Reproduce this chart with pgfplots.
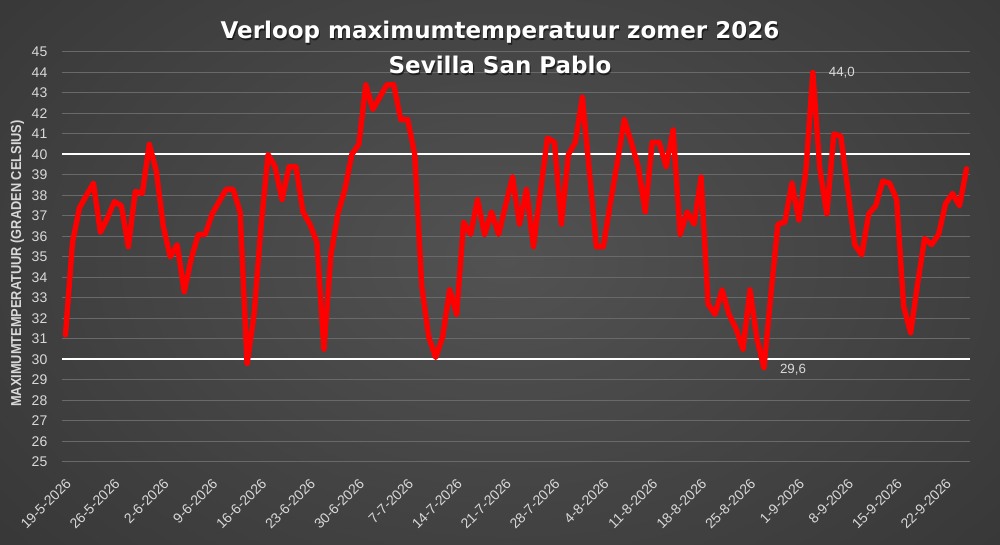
\documentclass[border=0pt]{standalone}
\usepackage{pgfplots}
\pgfplotsset{compat=1.18}
\usepackage{pgfplotstable}
\usepackage{fontspec}
\setmainfont{Liberation Sans}
\newfontfamily\titlefont{DejaVu Sans}
\definecolor{bgc}{RGB}{82,82,82}
\definecolor{bge}{RGB}{22,22,22}
\definecolor{gridc}{RGB}{105,105,105}
\definecolor{lbl}{RGB}{217,217,217}
\pgfdeclareradialshading{bgshade}{\pgfpoint{0bp}{0bp}}{color(0bp)=(bgc); color(50bp)=(bge)}

\pgfplotstableread{
d t
0 31.2
1 35.7
2 37.4
3 38.0
4 38.6
5 36.2
6 36.9
7 37.7
8 37.5
9 35.5
10 38.2
11 38.1
12 40.5
13 39.2
14 36.5
15 35.0
16 35.6
17 33.3
18 34.9
19 36.1
20 36.1
21 37.1
22 37.7
23 38.3
24 38.3
25 37.2
26 29.8
27 32.2
28 36.5
29 40.0
30 39.4
31 37.8
32 39.4
33 39.4
34 37.2
35 36.6
36 35.7
37 30.5
38 35.1
39 37.1
40 38.3
41 40.0
42 40.5
43 43.4
44 42.2
45 42.8
46 43.4
47 43.4
48 41.7
49 41.7
50 40.0
51 33.6
52 31.1
53 30.1
54 31.1
55 33.4
56 32.2
57 36.7
58 36.1
59 37.8
60 36.1
61 37.2
62 36.1
63 37.5
64 38.9
65 36.6
66 38.3
67 35.5
68 38.2
69 40.8
70 40.6
71 36.6
72 40.0
73 40.6
74 42.8
75 39.2
76 35.5
77 35.5
78 37.6
79 39.6
80 41.7
81 40.6
82 39.4
83 37.2
84 40.6
85 40.6
86 39.4
87 41.2
88 36.1
89 37.2
90 36.6
91 38.9
92 32.7
93 32.2
94 33.4
95 32.2
96 31.5
97 30.5
98 33.4
99 31.0
100 29.6
101 33.2
102 36.6
103 36.7
104 38.6
105 36.8
106 39.2
107 44.0
108 39.3
109 37.1
110 41.0
111 40.9
112 38.3
113 35.6
114 35.1
115 37.1
116 37.5
117 38.7
118 38.6
119 37.8
120 32.6
121 31.3
122 33.7
123 35.9
124 35.6
125 36.1
126 37.6
127 38.1
128 37.5
129 39.3
}\temps

\begin{document}
\begin{tikzpicture}
\useasboundingbox (0,0) rectangle (750pt,408.75pt);
\begin{scope}
\clip (0,0) rectangle (750pt,408.75pt);
\shade[shading=bgshade] (380pt,215pt) ellipse [x radius=560pt, y radius=380pt];
\end{scope}

\begin{axis}[
  at={(46.5pt,62.25pt)}, anchor=south west,
  scale only axis, width=681pt, height=307.5pt,
  xmin=-0.5, xmax=129.5, ymin=25, ymax=45,
  ytick={25,...,45},
  xtick={0,7,...,126},
  xticklabels={19-5-2026,26-5-2026,2-6-2026,9-6-2026,16-6-2026,23-6-2026,30-6-2026,7-7-2026,14-7-2026,21-7-2026,28-7-2026,4-8-2026,11-8-2026,18-8-2026,25-8-2026,1-9-2026,8-9-2026,15-9-2026,22-9-2026},
  /pgf/number format/assume math mode=true,
  axis line style={draw=none},
  major tick length=0pt,
  ymajorgrids,
  grid style={gridc, line width=0.75pt},
  ticklabel style={font=\fontsize{10.5}{12}\selectfont, text=lbl},
  xticklabel style={inner sep=0pt, xshift=2.3pt, yshift=-14.3pt, rotate=45, anchor=east},
  yticklabel style={xshift=-7.5pt},
  ylabel={\scalebox{0.89}[1]{\bfseries MAXIMUMTEMPERATUUR (GRADEN CELSIUS)}},
  ylabel style={at={(axis description cs:-0.049,0.484)}, anchor=center, font=\fontsize{10.8}{12}\selectfont, text=lbl},
  clip=false,
]
\addplot[white, line width=1.5pt] coordinates {(-0.5,30) (129.5,30)};
\addplot[white, line width=1.5pt] coordinates {(-0.5,40) (129.5,40)};
\addplot[red, line width=4pt, line join=round, line cap=round] table[x=d, y=t] {\temps};
\node[anchor=west, text=lbl, font=\fontsize{10}{11}\selectfont, xshift=8.5pt] at (axis cs:107,44) {44,0};
\node[anchor=west, text=lbl, font=\fontsize{10}{11}\selectfont, xshift=8.5pt, yshift=-1.5pt] at (axis cs:100,29.6) {29,6};
\end{axis}

\node[anchor=base, text=black, opacity=0.55, font=\titlefont\bfseries\fontsize{17.25}{20}\selectfont] at (375.8pt,378.7pt) {Verloop maximumtemperatuur zomer 2026};
\node[anchor=base, text=white, font=\titlefont\bfseries\fontsize{17.25}{20}\selectfont] at (375pt,379.5pt) {Verloop maximumtemperatuur zomer 2026};
\node[anchor=base, text=black, opacity=0.55, font=\titlefont\bfseries\fontsize{17.25}{20}\selectfont] at (375.8pt,352.45pt) {Sevilla San Pablo};
\node[anchor=base, text=white, font=\titlefont\bfseries\fontsize{17.25}{20}\selectfont] at (375pt,353.25pt) {Sevilla San Pablo};
\end{tikzpicture}
\end{document}
